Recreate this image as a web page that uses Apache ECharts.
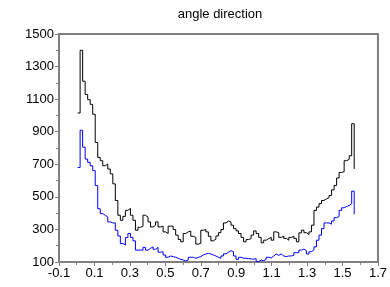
<!DOCTYPE html>
<html>
<head>
<meta charset="utf-8">
<script src="https://cdn.jsdelivr.net/npm/echarts@6/dist/echarts.min.js"></script>
<style>
  html, body { margin: 0; padding: 0; background: #fff; }
  #chart { width: 390px; height: 287px; }
</style>
</head>
<body>
<div id="chart"></div>
<script>
// histogram bins (step plot), one value per bin + closing point
var binStart = 0.005;
var binWidth = 0.01419;

var blackCounts = [
  1015, 1400, 1210, 1129, 1097, 1068, 1007, 834, 742, 722,
  691, 702, 671, 641, 580, 478, 387, 356, 380, 417,
  429, 387, 356, 295, 313, 320, 387, 376, 346, 315,
  326, 346, 315, 320, 285, 275, 320, 320, 299, 265,
  238, 224, 275, 285, 290, 258, 251, 210, 215, 295,
  299, 285, 258, 230, 240, 260, 280, 299, 340, 352,
  346, 326, 305, 291, 275, 251, 224, 238, 244, 265,
  291, 275, 251, 218, 234, 244, 251, 234, 285, 280,
  251, 258, 245, 234, 251, 258, 245, 224, 279, 295,
  280, 269, 285, 326, 417, 437, 458, 478, 488, 495,
  508, 543, 570, 616, 650, 655, 722, 730, 752, 949,
  671
];

var blueCounts = [
  680, 909, 805, 732, 712, 691, 661, 570, 427, 397,
  387, 376, 346, 340, 340, 295, 260, 214, 204, 250,
  275, 251, 230, 173, 173, 173, 190, 173, 184, 193,
  178, 190, 160, 163, 143, 129, 137, 133, 129, 123,
  116, 112, 106, 112, 129, 129, 123, 129, 133, 143,
  149, 153, 149, 143, 137, 129, 123, 137, 150, 160,
  169, 163, 137, 116, 129, 123, 123, 121, 119, 117,
  121, 102, 112, 108, 116, 129, 125, 137, 149, 141,
  149, 137, 133, 137, 137, 141, 157, 157, 173, 179,
  170, 149, 163, 175, 193, 234, 265, 305, 340, 340,
  332, 352, 372, 380, 417, 433, 441, 447, 458, 535,
  393
];

var titleText = "angle direction";

function toPoints(counts) {
  var pts = [];
  for (var i = 0; i < counts.length; i++) {
    pts.push([binStart + i * binWidth, counts[i]]);
  }
  return pts;
}

var dom = document.getElementById("chart");
var myChart = echarts.init(dom, null, { renderer: "canvas" });

var axisGray = "#808080";
var font = "Liberation Sans";

var option = {
  animation: false,
  backgroundColor: "#ffffff",
  title: {
    text: titleText,
    left: 220,
    top: 8,
    padding: 0,
    textAlign: "center",
    textStyle: { fontFamily: font, fontSize: 13, fontWeight: "normal", color: "#000" },
  },
  grid: {
    left: 59,
    right: 10,
    top: 34,
    bottom: 25,
    show: true,
    borderColor: axisGray,
    borderWidth: 2,
  },
  xAxis: {
    type: "value",
    min: -0.1,
    max: 1.7,
    interval: 0.2,
    axisLine: { show: true, onZero: false, lineStyle: { color: axisGray, width: 2 } },
    axisTick: { show: true, length: 4, lineStyle: { color: axisGray } },
    minorTick: { show: true, splitNumber: 2, length: 3, lineStyle: { color: axisGray } },
    splitLine: { show: false },
    axisLabel: {
      margin: 5,
      fontFamily: font,
      fontSize: 13,
      color: "#000",
      formatter: function (v) { return v.toFixed(1); },
    },
  },
  yAxis: {
    type: "value",
    min: 100,
    max: 1500,
    interval: 200,
    axisLine: { show: true, onZero: false, lineStyle: { color: axisGray, width: 2 } },
    axisTick: { show: true, length: 4, lineStyle: { color: axisGray } },
    minorTick: { show: true, splitNumber: 2, length: 3, lineStyle: { color: axisGray } },
    splitLine: { show: false },
    axisLabel: {
      margin: 5,
      fontFamily: font,
      fontSize: 13,
      color: "#000",
      formatter: function (v) { return String(Math.round(v)); },
    },
  },
  series: [
    {
      type: "line",
      step: "end",
      symbol: "none",
      data: toPoints(blackCounts),
      lineStyle: { color: "#000000", width: 1 },
    },
    {
      type: "line",
      step: "end",
      symbol: "none",
      data: toPoints(blueCounts),
      lineStyle: { color: "#0000ff", width: 1 },
    },
  ],
};

myChart.setOption(option);
window.addEventListener("resize", myChart.resize);
</script>
</body>
</html>
